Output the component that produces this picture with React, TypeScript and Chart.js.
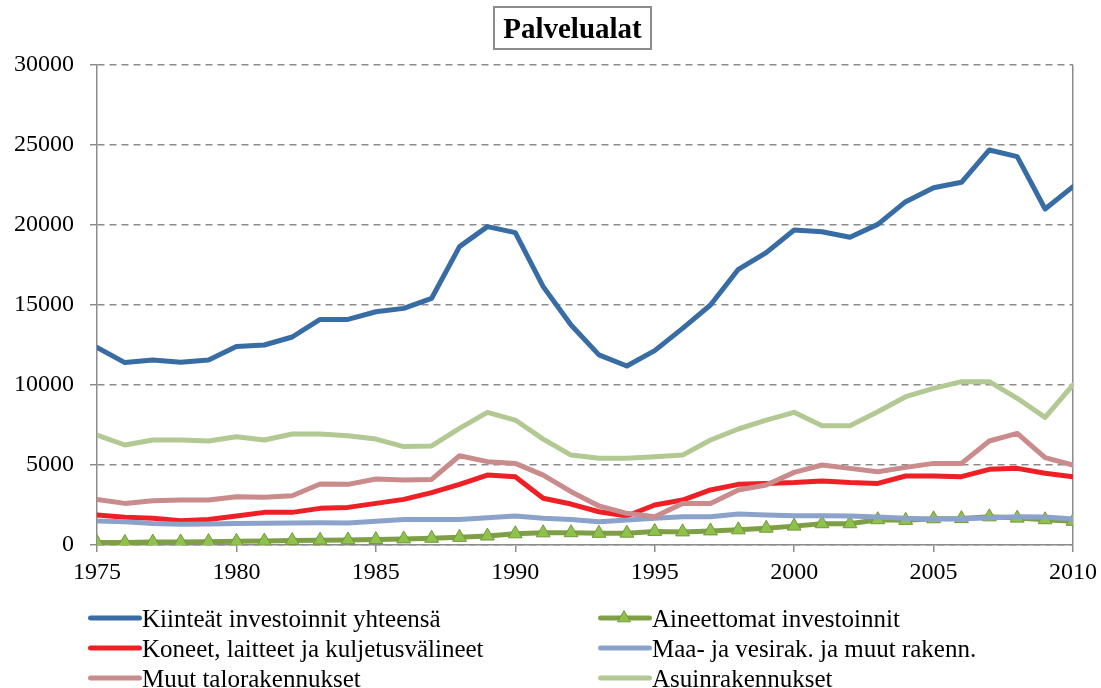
import React, { useEffect, useRef } from "react";
import { Chart, registerables } from "chart.js";

Chart.register(...registerables);

const years = [
  1975, 1976, 1977, 1978, 1979, 1980, 1981, 1982, 1983, 1984, 1985, 1986,
  1987, 1988, 1989, 1990, 1991, 1992, 1993, 1994, 1995, 1996, 1997, 1998,
  1999, 2000, 2001, 2002, 2003, 2004, 2005, 2006, 2007, 2008, 2009, 2010,
];

const kiinteat = [
  12350, 11400, 11560, 11420, 11560, 12400, 12500, 13000, 14100, 14100, 14580, 14790,
  15420, 18650, 19900, 19520, 16150, 13750, 11880, 11190, 12150, 13540, 15000, 17230,
  18270, 19690, 19580, 19230, 20040, 21460, 22330, 22670, 24690, 24270, 21000, 22400,
];

const aineettomat = [
  150, 160, 180, 190, 210, 230, 250, 280, 300, 320, 340, 380,
  420, 480, 560, 700, 760, 770, 730, 740, 850, 820, 880, 950,
  1050, 1180, 1330, 1330, 1580, 1540, 1640, 1650, 1760, 1680, 1580, 1480,
];

const koneet = [
  1870, 1730, 1670, 1520, 1600, 1810, 2040, 2040, 2290, 2350, 2600, 2850,
  3270, 3790, 4370, 4270, 2920, 2560, 2080, 1810, 2500, 2810, 3440, 3790,
  3850, 3900, 4000, 3900, 3850, 4310, 4310, 4270, 4730, 4790, 4480, 4270,
];

const maaJaVesi = [
  1500, 1450, 1350, 1300, 1320, 1340, 1360, 1380, 1390, 1370, 1480, 1600,
  1600, 1600, 1710, 1810, 1670, 1600, 1460, 1560, 1670, 1770, 1770, 1940,
  1880, 1830, 1830, 1810, 1750, 1670, 1630, 1630, 1700, 1770, 1750, 1630,
];

const muutTalo = [
  2850, 2600, 2770, 2810, 2810, 3020, 2980, 3080, 3810, 3790, 4120, 4060,
  4100, 5580, 5210, 5100, 4370, 3330, 2440, 1980, 1770, 2600, 2600, 3440,
  3750, 4540, 5000, 4790, 4580, 4850, 5100, 5100, 6500, 6980, 5460, 5000,
];

const asuin = [
  6870, 6250, 6560, 6560, 6500, 6770, 6560, 6940, 6940, 6830, 6620, 6150,
  6190, 7290, 8290, 7810, 6620, 5620, 5420, 5420, 5520, 5620, 6560, 7250,
  7810, 8290, 7460, 7460, 8330, 9270, 9790, 10210, 10210, 9170, 7980, 10000,
];

const yTicks = [0, 5000, 10000, 15000, 20000, 25000, 30000];

const titleText = "Palvelualat";

const names = {
  kiinteat: "Kiinteät investoinnit yhteensä",
  aineettomat: "Aineettomat investoinnit",
  koneet: "Koneet, laitteet ja kuljetusvälineet",
  maa: "Maa- ja vesirak. ja muut rakenn.",
  muut: "Muut talorakennukset",
  asuin: "Asuinrakennukset",
};

const colors = {
  kiinteat: "#386ca4",
  aineettomat: "#7e9f45",
  koneet: "#ee2026",
  maa: "#8ba3cb",
  muut: "#c98b8b",
  asuin: "#b2c994",
};

const triFill = "#8fc24c";
const triBorder = "#71993b";
const gridColor = "#8c8c8c";
const fontFamily = "'Liberation Serif', 'Times New Roman', serif";

type LegendItem = { key: keyof typeof names; col: number; row: number; tri?: boolean };
const legendItems: LegendItem[] = [
  { key: "kiinteat", col: 0, row: 0 },
  { key: "aineettomat", col: 1, row: 0, tri: true },
  { key: "koneet", col: 0, row: 1 },
  { key: "maa", col: 1, row: 1 },
  { key: "muut", col: 0, row: 2 },
  { key: "asuin", col: 1, row: 2 },
];

export default function App() {
  const ref = useRef<HTMLCanvasElement | null>(null);

  useEffect(() => {
    if (!ref.current) return;
    const mk = (key: keyof typeof names, data: number[], order: number) => ({
      label: names[key],
      data,
      borderColor: colors[key],
      backgroundColor: colors[key],
      borderWidth: 5,
      pointRadius: 0,
      tension: 0,
      borderJoinStyle: "round" as const,
      borderCapStyle: "round" as const,
      order,
    });
    const chart = new Chart(ref.current, {
      type: "line",
      data: {
        labels: years,
        datasets: [
          mk("kiinteat", kiinteat, 6),
          {
            ...mk("aineettomat", aineettomat, 5),
            pointRadius: 8,
            pointStyle: "triangle",
            pointBackgroundColor: triFill,
            pointBorderColor: triBorder,
            pointBorderWidth: 1,
          },
          mk("koneet", koneet, 4),
          mk("maa", maaJaVesi, 3),
          mk("muut", muutTalo, 2),
          mk("asuin", asuin, 1),
        ],
      },
      options: {
        animation: false,
        responsive: false,
        maintainAspectRatio: false,
        layout: { padding: { top: 65, right: 28, bottom: 103, left: 0 } },
        plugins: {
          legend: { display: false },
          title: { display: false },
          tooltip: { enabled: false },
        },
        scales: {
          x: {
            type: "linear",
            min: 1975,
            max: 2010,
            afterFit: (s: any) => {
              s.height = 40;
            },
            ticks: {
              stepSize: 5,
              color: "#000",
              padding: 2,
              maxRotation: 0,
              font: { family: fontFamily, size: 24, lineHeight: 1.6 },
              callback: (v: any) => String(v),
            },
            grid: {
              display: true,
              drawOnChartArea: true,
              drawTicks: true,
              tickLength: 7,
              tickColor: gridColor,
              tickWidth: 1.5,
              lineWidth: 1.5,
              color: (c: any) => (c.tick && c.tick.value === 2010 ? gridColor : "rgba(0,0,0,0)"),
            },
            border: { display: true, color: gridColor, width: 1.5 },
          },
          y: {
            min: 0,
            max: 30000,
            afterFit: (s: any) => {
              s.width = 97;
            },
            afterBuildTicks: (s: any) => {
              s.ticks = yTicks.map((v) => ({ value: v }));
            },
            ticks: {
              color: "#000",
              padding: 16,
              font: { family: fontFamily, size: 24 },
              callback: (v: any) => String(v),
            },
            grid: {
              color: gridColor,
              lineWidth: 1.5,
              drawTicks: true,
              tickLength: 7,
              tickColor: gridColor,
              tickWidth: 1.5,
              tickBorderDash: [],
            },
            border: { display: true, color: gridColor, width: 1.5, dash: [7, 5] },
          },
        },
      },
    });
    return () => chart.destroy();
  }, []);

  return (
    <div
      style={{
        position: "absolute",
        left: 0,
        top: 0,
        width: 1101,
        height: 688,
        background: "#fff",
        fontFamily,
        overflow: "hidden",
      }}
    >
      <canvas ref={ref} width={1101} height={688} style={{ width: 1101, height: 688, display: "block" }} />
      <div
        style={{
          position: "absolute",
          left: 493,
          top: 6,
          width: 155,
          height: 40,
          border: "2px solid #8c8c8c",
          display: "flex",
          alignItems: "center",
          justifyContent: "center",
          fontWeight: "bold",
          fontSize: 29,
          color: "#000",
          lineHeight: 1,
        }}
      >
        {titleText}
      </div>
      {legendItems.map((it) => {
        const left = it.col === 0 ? 88 : 598;
        const top = 603 + it.row * 30;
        return (
          <div
            key={it.key}
            style={{
              position: "absolute",
              left,
              top,
              height: 30,
              display: "flex",
              alignItems: "center",
              whiteSpace: "nowrap",
              fontSize: 25,
              color: "#000",
              lineHeight: 1,
            }}
          >
            <svg width={54} height={20} style={{ display: "block" }}>
              <line x1={2.5} y1={10} x2={51.5} y2={10} stroke={colors[it.key]} strokeWidth={5} strokeLinecap="round" />
              {it.tri ? (
                <polygon points="26,2.5 32.5,13.8 19.5,13.8" fill={triFill} stroke={triBorder} strokeWidth={1} />
              ) : null}
            </svg>
            <span>{names[it.key]}</span>
          </div>
        );
      })}
    </div>
  );
}
